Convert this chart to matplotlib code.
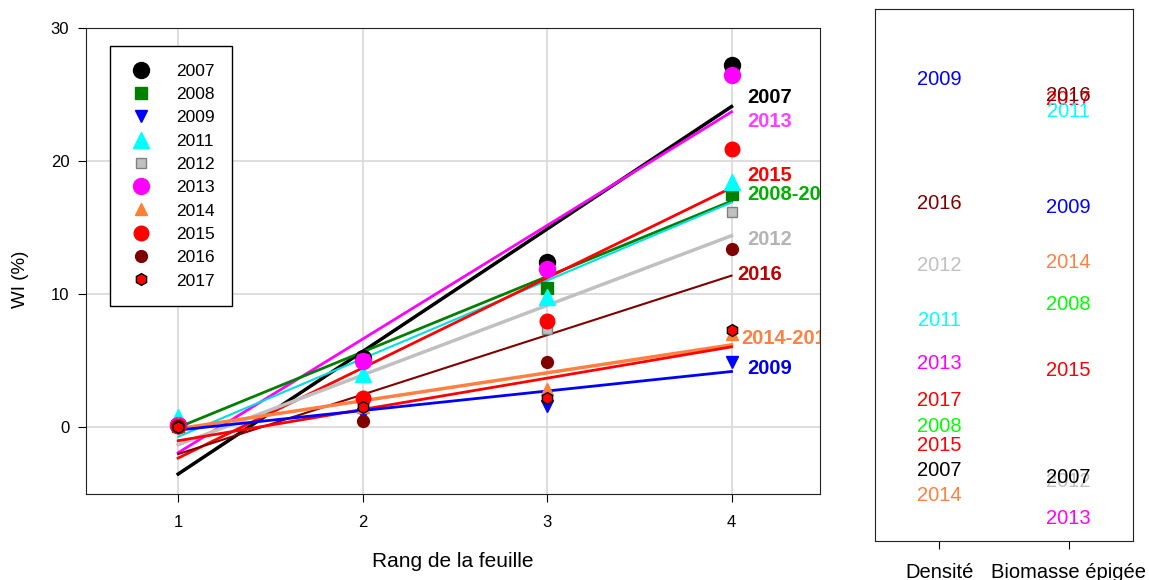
import numpy as np
import matplotlib
matplotlib.use('Agg')
import matplotlib.pyplot as plt

plt.rcParams['font.family'] = ['Liberation Sans', 'DejaVu Sans']

# leaf rank
rang = [1, 2, 3, 4]

# mean WI (%) per year and leaf rank
years = ['2007', '2008', '2009', '2011', '2012', '2013', '2014', '2015', '2016', '2017']
wi = {
    '2007': [0.2, 5.2, 12.4, 27.2],
    '2008': [0.1, 5.1, 10.5, 17.5],
    '2009': [0.0, 1.0, 1.6, 4.9],
    '2011': [0.8, 4.0, 9.8, 18.4],
    '2012': [0.0, 2.0, 7.4, 16.2],
    '2013': [0.2, 5.0, 11.9, 26.5],
    '2014': [0.3, 1.5, 2.9, 7.0],
    '2015': [0.1, 2.2, 8.0, 20.9],
    '2016': [0.1, 0.5, 4.9, 13.4],
    '2017': [0.0, 1.5, 2.2, 7.3],
}

# linear fits, value at rank 1 and rank 4
fit_names = ['2007', '2013', '2008', '2011', '2015', '2012', '2016', '2014', '2017', '2009']
fit_r1 = [-3.5, -1.9, 0.0, -0.7, -2.3, -1.3, -2.0, -0.1, -1.0, -0.2]
fit_r4 = [24.1, 23.7, 17.0, 16.9, 18.0, 14.4, 11.4, 6.2, 6.05, 4.2]

# fit labels at the right end
lab_text = ['2007', '2013', '2015', '2008-2011', '2012', '2016', '2014-2017', '2009']
lab_x = [4.085, 4.085, 4.085, 4.085, 4.085, 4.03, 4.055, 4.085]
lab_y = [24.8, 23.0, 18.9, 17.5, 14.1, 11.5, 6.7, 4.4]
lab_col = ['black', '#ff3fff', '#ff0000', '#00b000', '#b4b4b4', '#c00000', '#ff8040', '#0000ee']

# ranking of the years for density and above-ground biomass
dens = {'2009': 0.867, '2016': 0.635, '2012': 0.517, '2011': 0.415, '2013': 0.333,
        '2017': 0.265, '2008': 0.216, '2015': 0.179, '2007': 0.132, '2014': 0.086}
biom = {'2016': 0.837, '2017': 0.829, '2011': 0.808, '2009': 0.626, '2014': 0.523,
        '2008': 0.444, '2015': 0.321, '2007': 0.119, '2012': 0.111, '2013': 0.043}
rank_labels = ['Densité', 'Biomasse épigée']

style = {
    '2007': dict(marker='o', color='black', ms=11.5, mec='black'),
    '2008': dict(marker='s', color='#008000', ms=9, mec='#008000'),
    '2009': dict(marker='v', color='#0000ff', ms=9, mec='#0000ff'),
    '2011': dict(marker='^', color='#00ffff', ms=12, mec='#00ffff'),
    '2012': dict(marker='s', color='#c0c0c0', ms=7.5, mec='#808080'),
    '2013': dict(marker='o', color='#ff00ff', ms=11.5, mec='#ff00ff'),
    '2014': dict(marker='^', color='#ff8030', ms=9, mec='#ff8030'),
    '2015': dict(marker='o', color='#ff0000', ms=10.5, mec='#ff0000'),
    '2016': dict(marker='o', color='#800000', ms=8.5, mec='#800000'),
    '2017': dict(marker='h', color='#ff0000', ms=8.5, mec='black'),
}
fit_style = {
    '2007': ('black', 2.5), '2013': ('#ff00ff', 2), '2008': ('#008000', 2),
    '2011': ('#00e0e0', 1.5), '2015': ('#ff0000', 2), '2012': ('#c0c0c0', 2.5),
    '2016': ('#800000', 1.5), '2014': ('#ff8040', 2.5), '2017': ('#ff0000', 2),
    '2009': ('#0000ff', 2),
}
rank_col = {'2007': 'black', '2008': '#00ff00', '2009': '#0000ff', '2011': '#00ffff',
            '2012': '#c0c0c0', '2013': '#ff00ff', '2014': '#ff8040', '2015': '#ff0000',
            '2016': '#800000', '2017': '#ff0000'}

fig = plt.figure(figsize=(11.49, 5.8), dpi=100)
ax = fig.add_axes([0.0748, 0.1483, 0.6389, 0.8034])
ax2 = fig.add_axes([0.7615, 0.0672, 0.2246, 0.9173])

# fitted lines
for name, y1, y4 in zip(fit_names, fit_r1, fit_r4):
    c, lw = fit_style[name]
    ax.plot([rang[0], rang[-1]], [y1, y4], color=c, lw=lw, zorder=2)

# observed means
for yr in years:
    s = style[yr]
    ax.plot(rang, wi[yr], linestyle='none', marker=s['marker'], color=s['color'],
            markersize=s['ms'], markeredgecolor=s['mec'], markeredgewidth=1,
            label=yr, zorder=3)

for t, x, y, c in zip(lab_text, lab_x, lab_y, lab_col):
    ax.text(x, y, t, color=c, fontsize=14.5, fontweight='bold', va='center',
            ha='left', clip_on=True, zorder=4)

ax.set_xlim(0.5, 4.48)
ax.set_ylim(-5, 30)
ax.set_xticks(rang)
ax.set_yticks([0, 10, 20, 30])
ax.grid(True, color='#d8d8d8', lw=1.2, zorder=0)
ax.set_axisbelow(True)
ax.tick_params(direction='out', length=6, labelsize=12, top=False, right=False)
ax.tick_params(axis='x', pad=9)
ax.tick_params(axis='y', pad=6)
ax.set_xlabel('Rang de la feuille', fontsize=15, labelpad=16)
ax.set_ylabel('WI (%)', fontsize=13.5)
ax.yaxis.set_label_coords(-0.078, 0.46)
for sp in ax.spines.values():
    sp.set_color('#222222')

leg = ax.legend(loc='upper left', bbox_to_anchor=(0.0327, 0.961), borderaxespad=0,
                fontsize=12.5, frameon=True, fancybox=False, framealpha=1,
                edgecolor='black', labelspacing=0.47, borderpad=1.0,
                handletextpad=1.2, handlelength=1.6, numpoints=1)
leg.get_frame().set_linewidth(1.0)

# year ranking panel
for yr in years[::-1]:
    ax2.text(1, dens[yr], yr, color=rank_col[yr], fontsize=14.5, ha='center', va='center')
    ax2.text(2, biom[yr], yr, color=rank_col[yr], fontsize=14.5, ha='center', va='center')
ax2.set_xlim(0.5, 2.5)
ax2.set_ylim(0, 1)
ax2.set_xticks([1, 2])
ax2.set_xticklabels(rank_labels)
ax2.set_yticks([])
ax2.tick_params(axis='x', direction='out', length=6, labelsize=14.5, pad=10)
for sp in ax2.spines.values():
    sp.set_color('#222222')

fig.savefig('out.png', dpi=100)
